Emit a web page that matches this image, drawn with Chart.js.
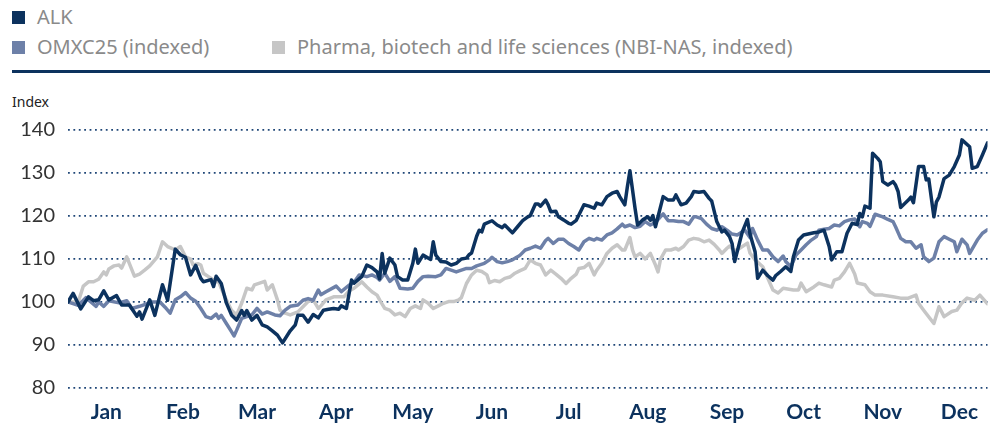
<!DOCTYPE html>
<html lang="en">
<head>
    <meta charset="UTF-8">
    <title>ALK share price vs indices</title>
    <script src="https://cdn.jsdelivr.net/npm/chart.js@4"></script>
    <style>
        body {
            margin: 0;
            width: 990px;
            height: 423px;
            overflow: hidden;
            background: #fff;
            font-family: "Noto Sans", sans-serif;
            position: relative;
        }
        .legend-row {
            position: absolute;
            left: 12px;
            font-size: 20px;
            color: #8a8a8a;
            white-space: nowrap;
        }
        .legend-item {
            position: absolute;
            top: 0;
            line-height: 22px;
        }
        .swatch {
            position: absolute;
            left: 0;
            top: 5px;
            width: 13px;
            height: 13px;
        }
        .legend-item span.label {
            position: absolute;
            left: 25px;
            top: 0;
        }
        .rule {
            position: absolute;
            left: 12px;
            top: 70px;
            width: 978px;
            height: 3px;
            background: #0c325e;
        }
        .unit {
            position: absolute;
            left: 12px;
            top: 92px;
            font-size: 14px;
            color: #222;
        }
        .chart-box {
            position: absolute;
            left: 0;
            top: 105px;
            width: 990px;
            height: 318px;
        }
    </style>
</head>
<body>
    <div class="legend-row" style="top:6px;">
        <div class="legend-item" style="left:0;"><i class="swatch" style="background:#0c325e"></i><span class="label">ALK</span></div>
    </div>
    <div class="legend-row" style="top:36px;">
        <div class="legend-item" style="left:0;"><i class="swatch" style="background:#6d80a8"></i><span class="label">OMXC25 (indexed)</span></div>
        <div class="legend-item" style="left:260px;"><i class="swatch" style="background:#c6c6c6"></i><span class="label">Pharma, biotech and life sciences (NBI-NAS, indexed)</span></div>
    </div>
    <div class="rule"></div>
    <div class="unit">Index</div>
    <div class="chart-box"><canvas id="chart"></canvas></div>

    <script>
        // month labels, placed mid-month (day of year)
        const months = ['Jan', 'Feb', 'Mar', 'Apr', 'May', 'Jun', 'Jul', 'Aug', 'Sep', 'Oct', 'Nov', 'Dec'];
        const monthDays = [15, 45, 74, 105, 135, 166, 196, 227, 258, 288, 319, 349];

        // ALK
        const alkDays = [
            0, 2, 5, 8, 10, 12, 14, 16, 19, 21,
            24, 27, 28, 29, 32, 34, 37, 39, 42, 44,
            46, 48, 50, 52, 53, 56, 57, 58, 60, 62,
            64, 66, 68, 69, 70, 72, 74, 76, 78, 80,
            82, 84, 87, 89, 90, 92, 94, 96, 98, 100,
            102, 104, 106, 107, 109, 111, 112, 115, 117, 119,
            121, 122, 123, 124, 126, 128, 129, 131, 133, 135,
            136, 137, 139, 142, 143, 144, 146, 148, 150, 152,
            154, 156, 157, 158, 160, 161, 162, 163, 166, 168,
            170, 171, 173, 174, 176, 178, 180, 181, 183, 184,
            185, 187, 188, 189, 191, 192, 194, 196, 197, 199,
            202, 204, 206, 207, 209, 211, 213, 215, 216, 218,
            219, 220, 222, 223, 225, 227, 228, 229, 230, 233,
            235, 237, 238, 240, 242, 244, 245, 247, 249, 251,
            252, 254, 256, 257, 259, 260, 261, 263, 264, 266,
            267, 269, 270, 272, 274, 276, 277, 279, 281, 283,
            284, 286, 288, 292, 294, 296, 298, 299, 301, 303,
            305, 307, 309, 310, 311, 312, 314, 315, 317, 318,
            319, 321, 323, 324, 325, 326, 329, 330, 331, 333,
            335, 336, 337, 339, 340, 341, 343, 345, 347, 349,
            350, 353, 354, 356, 358, 360
        ];
        const alkValues = [
            100, 102, 98.4, 101.2, 100.3, 100.5, 102.6, 100.5, 101.5, 99.3,
            99.3, 96.7, 97.7, 96, 100.5, 96.9, 104, 100.4, 112.3, 111,
            110.4, 106.3, 108.5, 105.5, 104.7, 105.2, 103.6, 106, 104.3, 99.8,
            97, 95.8, 98, 96.9, 98, 95.8, 96.9, 94.7, 94.2, 93.3,
            92.3, 90.5, 93.3, 94.7, 96.9, 96.9, 95.3, 97.1, 96.3, 98.1,
            98.3, 98.5, 98.3, 99.1, 98.5, 105.1, 104.4, 105.9, 108.6, 108,
            107, 105.4, 111.3, 106.7, 110.2, 108.6, 105.9, 105.1, 105.1, 109,
            112.3, 109, 110.9, 109.9, 114, 110.9, 109.4, 109.3, 108.6, 109,
            110, 110.2, 111, 111.4, 115.3, 116.7, 116.3, 118.1, 118.9, 117.9,
            117.3, 117.9, 116.7, 116.1, 117.5, 118.9, 119.8, 120.1, 122.8, 122.8,
            122.3, 123.7, 122.6, 121, 121.1, 119.8, 119.1, 118.3, 118.1, 119,
            122.6, 122.3, 121.8, 123, 122.6, 124.5, 125.3, 125.7, 124.5, 122.6,
            126.8, 130.5, 121.8, 117.9, 119.1, 119.8, 119, 120.1, 117.5, 124.5,
            123.7, 123.7, 124.9, 122.6, 123, 124.5, 125.7, 125.5, 125.7, 124.1,
            123.5, 118.7, 116.3, 116.7, 115.2, 113.6, 109.4, 114, 116.3, 119.2,
            115.8, 111.7, 105.5, 107.4, 106.1, 105.1, 106.1, 107.1, 108.2, 107.1,
            110.5, 114.4, 115.6, 116.1, 116.3, 116.7, 112.9, 109.8, 111.7, 111.7,
            116, 118.3, 118, 120.6, 119.8, 122.3, 121.8, 134.6, 133.4, 132.6,
            128, 127.2, 128, 127.2, 125.7, 122, 123.7, 124.4, 123.1, 131.5,
            131.5, 128.4, 128.6, 119.8, 123.3, 124.4, 128.7, 129.5, 131.5, 134.2,
            137.7, 136.1, 131.1, 131.5, 134.2, 137
        ];

        // OMXC25 (indexed)
        const omxDays = [
            0, 4, 7, 11, 12, 14, 16, 20, 23, 25,
            28, 33, 36, 38, 40, 42, 44, 46, 48, 50,
            52, 54, 56, 58, 59, 60, 62, 64, 65, 66,
            68, 70, 72, 74, 76, 78, 81, 83, 85, 87,
            90, 92, 94, 96, 98, 99, 101, 105, 107, 110,
            112, 114, 117, 119, 121, 122, 124, 126, 128, 130,
            133, 135, 137, 139, 141, 144, 146, 148, 150, 152,
            154, 156, 158, 160, 163, 165, 166, 168, 170, 172,
            174, 176, 177, 179, 181, 183, 185, 187, 188, 190,
            192, 194, 196, 198, 200, 202, 204, 206, 207, 209,
            211, 213, 215, 217, 218, 220, 222, 224, 226, 228,
            230, 233, 235, 237, 239, 241, 243, 245, 246, 248,
            250, 252, 254, 256, 258, 260, 262, 265, 267, 268,
            270, 272, 274, 276, 278, 280, 281, 283, 285, 287,
            289, 291, 293, 294, 296, 298, 300, 302, 304, 306,
            308, 310, 311, 313, 314, 316, 319, 321, 323, 324,
            326, 328, 330, 332, 334, 335, 337, 339, 341, 343,
            345, 347, 348, 350, 352, 353, 356, 358, 360
        ];
        const omxValues = [
            100, 99.2, 101, 99, 100, 99, 100.3, 99.8, 100.3, 98.5,
            99, 100, 100, 98.8, 97.4, 100.5, 101.2, 102.2, 100.9, 100.2,
            98.5, 96.6, 96.2, 97.2, 96.2, 96.9, 95, 93.1, 92.1, 93.4,
            96.2, 96.6, 97, 98.5, 97.2, 97.7, 97, 96.8, 98.1, 99,
            99.3, 100.4, 100.8, 100.4, 102.8, 101.7, 102.4, 103.7, 102.4, 103.9,
            104.6, 106.3, 105.9, 106.3, 105.7, 105.1, 106.7, 104.8, 105.9, 103.2,
            103, 103.2, 104.8, 105.9, 106, 105.9, 106.3, 107.8, 107.4, 107,
            107.4, 107.8, 107.8, 108.4, 109, 109.8, 110.4, 109.4, 109.1, 109.4,
            109.8, 110.5, 110.9, 112.1, 112.5, 113, 112.5, 114.3, 114.8, 113.6,
            114.6, 114.6, 113.6, 112.9, 112.1, 114, 114.8, 114.4, 114.8, 114.4,
            115.6, 116.1, 117, 118.1, 117.5, 117.9, 117.3, 117.6, 118.7, 117.9,
            118.5, 120.5, 118.9, 118.9, 118.7, 118.7, 118.1, 119.8, 119.8, 119.4,
            118.1, 117.1, 116.7, 117.5, 116.7, 115.8, 115.6, 116.7, 115, 117.1,
            114.4, 112.1, 112.1, 110.5, 109.4, 110.7, 109.4, 108.2, 110.9, 112.1,
            113.3, 114.4, 115.2, 116.7, 116.9, 117.1, 117.9, 117.7, 118.7, 119.1,
            119.3, 117.5, 118.7, 118.3, 117.6, 120.4, 119.8, 119.2, 118.7, 117.5,
            114.8, 114, 114, 112.5, 113.3, 110.5, 109.4, 110.2, 114, 115.2,
            114.6, 114, 111.7, 114.6, 113.3, 111.3, 114.4, 116, 116.8
        ];

        // Pharma, biotech and life sciences (NBI-NAS, indexed)
        const pharmaDays = [
            0, 4, 6, 8, 10, 12, 14, 15, 16, 18,
            20, 21, 23, 24, 26, 28, 30, 32, 34, 35,
            37, 39, 42, 44, 46, 48, 49, 51, 52, 53,
            55, 57, 58, 59, 60, 62, 64, 66, 68, 70,
            72, 73, 75, 77, 78, 80, 82, 83, 85, 87,
            90, 92, 94, 96, 98, 99, 101, 104, 106, 108,
            110, 112, 115, 117, 119, 121, 122, 124, 126, 128,
            130, 132, 134, 136, 138, 139, 141, 143, 145, 147,
            149, 151, 153, 154, 156, 158, 160, 162, 164, 165,
            167, 169, 171, 173, 175, 177, 179, 181, 183, 185,
            187, 189, 191, 193, 195, 197, 199, 200, 202, 204,
            206, 207, 209, 211, 213, 215, 217, 218, 220, 221,
            222, 224, 226, 228, 230, 231, 232, 234, 236, 238,
            239, 241, 243, 245, 247, 249, 251, 253, 255, 256,
            258, 259, 261, 263, 266, 267, 269, 272, 274, 276,
            278, 280, 284, 286, 287, 289, 292, 294, 296, 299,
            300, 302, 304, 306, 308, 309, 312, 314, 316, 319,
            323, 326, 329, 332, 333, 335, 339, 341, 343, 346,
            348, 350, 352, 355, 357, 360
        ];
        const pharmaValues = [
            100, 100, 103.7, 104.7, 104.7, 105.3, 107, 106.3, 107.7, 108.4,
            108.6, 107.9, 110.5, 109, 106, 106.5, 107.4, 108.4, 109.8, 110.5,
            114, 112.9, 112.1, 112.9, 110.5, 110, 108.6, 108.9, 108.6, 106.7,
            105.9, 105.1, 104.7, 104.7, 103.2, 100.5, 98.1, 97, 99.7, 103.2,
            102.8, 104, 104.4, 104.8, 102.8, 104, 100.5, 98.1, 97.4, 97,
            97.7, 98.9, 100.1, 100.5, 98.5, 99.1, 100.5, 101.2, 101.2, 101.2,
            102.6, 103.2, 104.7, 103.5, 102.4, 101.6, 100.5, 98.5, 98.1, 97,
            97.4, 96.6, 98.5, 99.1, 98.5, 100.5, 99.7, 98.5, 99.1, 99.7,
            100.1, 100.1, 100.5, 101, 104.3, 106.3, 107.4, 107.1, 106.3, 104.5,
            105, 104.7, 105.5, 105.8, 106.7, 107.3, 107.8, 109.8, 109, 108.6,
            106.3, 107.4, 106.5, 105.5, 104.3, 105.5, 106.5, 107.8, 108, 109,
            106.3, 107.4, 109, 111.3, 112.5, 113.3, 112.1, 112.1, 115, 112.1,
            110.5, 111.3, 110, 111.3, 108.6, 107, 110, 112.1, 112.1, 112.5,
            112.1, 112.9, 114.4, 114.8, 114.6, 114, 114.4, 113.4, 112.1, 111.3,
            112.5, 113, 111.9, 112.5, 113.7, 111.4, 109.8, 108.2, 105.5, 102.8,
            102.1, 103.2, 102.8, 102.8, 104.4, 102.4, 103.5, 104.4, 104, 103.5,
            105.1, 105.5, 107, 109, 106.5, 104.4, 104, 102.4, 101.6, 101.6,
            101.2, 100.9, 100.9, 101.6, 99.7, 98.1, 95, 98.9, 96.6, 97.8,
            98.1, 99.8, 100.9, 100.4, 101.6, 99.6
        ];

        const yTicks = [80, 90, 100, 110, 120, 130, 140];

        function toPoints(days, values) {
            return days.map((d, i) => ({ x: d, y: values[i] }));
        }

        const lineStyle = {
            pointRadius: 0,
            borderWidth: 3.5,
            tension: 0,
            borderJoinStyle: 'round',
            borderCapStyle: 'round',
            fill: false
        };

        const ctx = document.getElementById('chart').getContext('2d');
        new Chart(ctx, {
            type: 'line',
            data: {
                datasets: [
                    { label: 'ALK', data: toPoints(alkDays, alkValues), borderColor: '#0c325e', ...lineStyle },
                    { label: 'OMXC25 (indexed)', data: toPoints(omxDays, omxValues), borderColor: '#6d80a8', ...lineStyle },
                    { label: 'Pharma, biotech and life sciences (NBI-NAS, indexed)', data: toPoints(pharmaDays, pharmaValues), borderColor: '#c6c6c6', ...lineStyle }
                ]
            },
            options: {
                responsive: true,
                maintainAspectRatio: false,
                animation: false,
                layout: { padding: { top: 10, right: 0, left: 0, bottom: 0 } },
                plugins: {
                    legend: { display: false },
                    tooltip: { enabled: false }
                },
                scales: {
                    x: {
                        type: 'linear',
                        min: 0,
                        max: 360,
                        grid: { display: false, drawTicks: false },
                        border: { display: false },
                        afterBuildTicks: (scale) => {
                            scale.ticks = monthDays.map(v => ({ value: v }));
                        },
                        afterFit: (scale) => { scale.height = 35; },
                        ticks: {
                            autoSkip: false,
                            maxRotation: 0,
                            padding: 12,
                            color: '#0c325e',
                            font: { family: 'Lato', size: 21, weight: 'bold' },
                            callback: (v) => months[monthDays.indexOf(v)]
                        }
                    },
                    y: {
                        min: 80,
                        max: 140,
                        afterBuildTicks: (scale) => {
                            scale.ticks = yTicks.map(v => ({ value: v }));
                        },
                        afterFit: (scale) => { scale.width = 68; },
                        grid: {
                            drawTicks: false,
                            color: '#1f4677',
                            lineWidth: 1.8
                        },
                        border: { display: false, dash: [1.8, 3.6] },
                        ticks: {
                            padding: 13,
                            color: '#333',
                            font: { family: 'Lato', size: 20 }
                        }
                    }
                }
            }
        });
    </script>
</body>
</html>
